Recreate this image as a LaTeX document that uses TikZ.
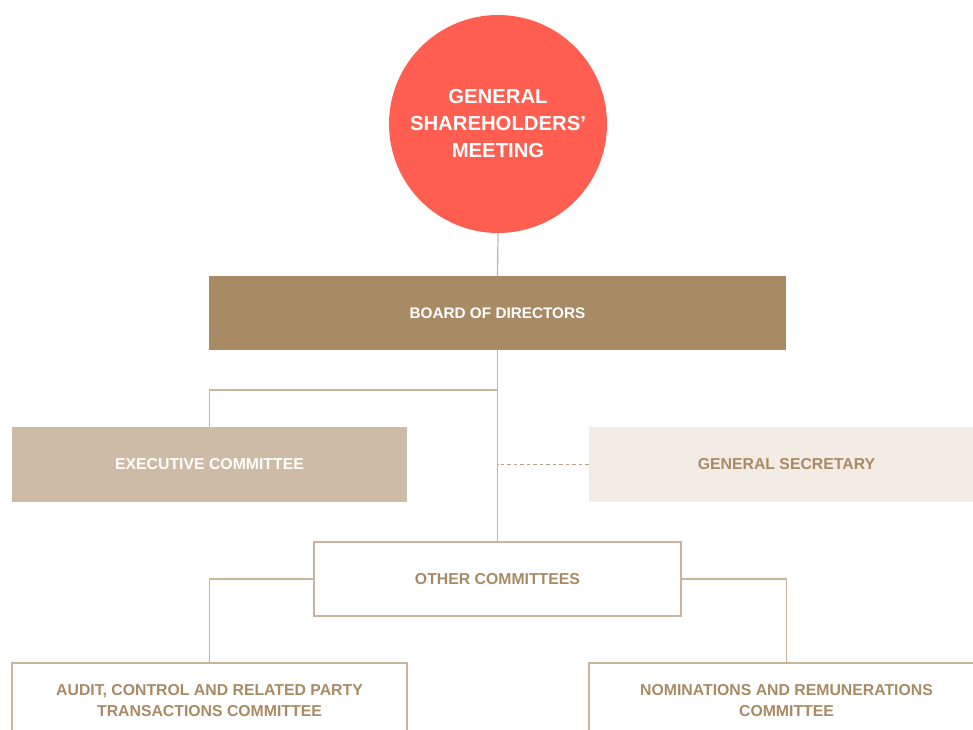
\documentclass[tikz,border=0pt]{standalone}
\usepackage{fontspec}
\setmainfont{Liberation Sans}
\usepackage{xcolor}
\usepackage{tikz}
\usetikzlibrary{calc,positioning}

\definecolor{gsmred}{HTML}{FF5E51}
\definecolor{boardgold}{HTML}{A88B65}
\definecolor{execsand}{HTML}{CDBBA6}
\definecolor{secpale}{HTML}{F2ECE5}
\definecolor{linetan}{HTML}{C9B59B}

\begin{document}
\begin{tikzpicture}[x=1pt,y=-1pt]
                \tikzstyle{every node}+=[inner sep=0pt,font=\bfseries,align=center]
                \tikzstyle{orgbox}=[rectangle,minimum width=395pt,minimum height=75pt,font=\fontsize{15.8}{21}\bfseries]
                \tikzstyle{plainbox}=[orgbox,fill=white,draw=linetan,line width=1.2pt,text=boardgold]
                \tikzstyle{link}=[draw=linetan,line width=1.2pt]
                \useasboundingbox (0,0) rectangle (973,729);
                \clip (0,0) rectangle (973,729);
                % top of the chart
                \node [circle,fill=gsmred,minimum size=218pt,text=white,font=\fontsize{20.3}{27}\bfseries] (gsm) at (498,124) {GENERAL\\SHAREHOLDERS'\\MEETING};
                \node [orgbox,minimum width=577pt,minimum height=74pt,fill=boardgold,text=white,font=\fontsize{15.3}{21}\bfseries] (board) at (497.5,313) {BOARD OF DIRECTORS};
                % second row
                \node [orgbox,fill=execsand,text=white] (exec) at (209.5,464.5) {EXECUTIVE COMMITTEE};
                \node [orgbox,fill=secpale,text=boardgold] (sec) at (786.5,464.5) {GENERAL SECRETARY};
                % committees
                \node [plainbox,minimum width=367pt,minimum height=74pt] (other) at (497.5,579) {OTHER COMMITTEES};
                \node [plainbox] (audit) at (209.5,700.5) {AUDIT, CONTROL AND RELATED PARTY\\TRANSACTIONS COMMITTEE};
                \node [plainbox] (nomin) at (786.5,700.5) {NOMINATIONS AND REMUNERATIONS\\COMMITTEE};
                \coordinate (split) at (498,390);
                \draw [link] (gsm.south) -- (board.north);
                \draw [link] (board.south) -- (other.north);
                \draw [link] (split) -| (exec.north);
                \draw [link,draw=boardgold!80,dashed,dash pattern=on 3.5pt off 3pt] (sec.west) -- (sec.west -| other.north);
                \draw [link] (other.west) -| (audit.north);
                \draw [link] (other.east) -| (nomin.north);
            \end{tikzpicture}
\end{document}
